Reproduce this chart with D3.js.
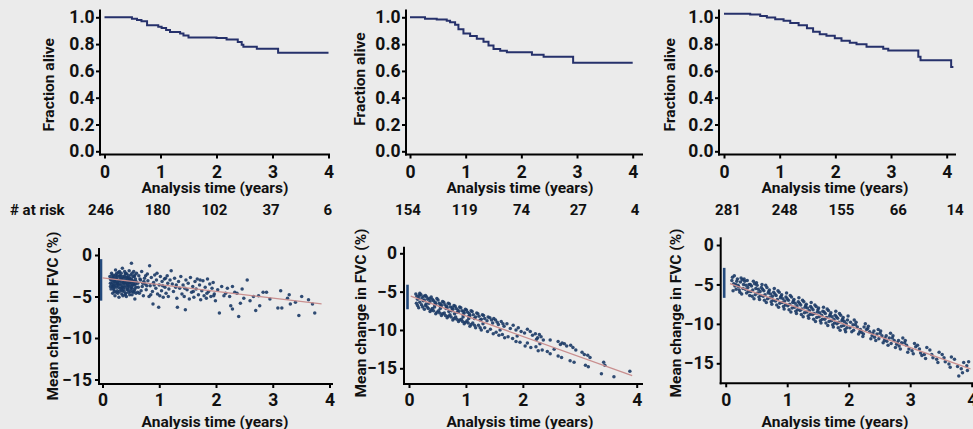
<!DOCTYPE html>
<html><head><meta charset="utf-8">
<script src="https://cdn.jsdelivr.net/npm/d3@7"></script>
<style>
body{margin:0;background:#ebebeb}
svg{display:block}
text{font-family:Roboto,"Noto Sans",sans-serif;font-weight:700;fill:#111}
</style></head>
<body><svg width="973" height="429"></svg>
<script>
// ---------------- DATA ----------------
const yearTicks = [0,1,2,3,4];
const survTicks = [0,0.2,0.4,0.6,0.8,1.0];
const fvcTicks = [0,-5,-10,-15];
const xTitle = "Analysis time (years)";
const survTitle = "Fraction alive";
const fvcTitle = "Mean change in FVC (%)";
const atRiskLabel = "# at risk";
const atRisk1 = [246,180,102,37,6];
const atRisk2 = [154,119,74,27,4];
const atRisk3 = [281,248,155,66,14];

// Kaplan-Meier steps [time, fraction alive]
const km1 = [[0,1],[0.49,0.99],[0.58,0.98],[0.66,0.97],[0.76,0.94],[0.96,0.93],[1.02,0.92],[1.1,0.905],[1.17,0.89],[1.35,0.88],[1.41,0.865],[1.5,0.85],[2.0,0.845],[2.18,0.835],[2.38,0.815],[2.45,0.795],[2.48,0.78],[2.72,0.765],[3.1,0.735],[4.0,0.735]];
const km2 = [[0,1],[0.27,0.99],[0.48,0.983],[0.66,0.975],[0.72,0.963],[0.81,0.945],[0.87,0.91],[0.96,0.88],[1.08,0.86],[1.2,0.84],[1.32,0.818],[1.41,0.79],[1.5,0.763],[1.62,0.75],[1.74,0.74],[2.19,0.72],[2.4,0.705],[2.93,0.66],[4.0,0.66]];
const km3 = [[0,1.027],[0.47,1.02],[0.65,1.01],[0.77,0.998],[0.92,0.985],[1.07,0.975],[1.19,0.957],[1.34,0.94],[1.49,0.918],[1.6,0.893],[1.72,0.873],[1.84,0.863],[1.99,0.843],[2.11,0.825],[2.26,0.81],[2.38,0.798],[2.56,0.78],[2.86,0.765],[2.95,0.752],[3.49,0.706],[3.53,0.68],[4.08,0.63],[4.12,0.63]];

// baseline spread at time 0 [top, bottom] (%)
const base1 = [-0.5,-5.5];
const base2 = [-4.1,-7.3];
const base3 = [-2.9,-6.7];

// fitted trend [[t0,v0],[t1,v1]]
const fit1 = [[0,-2.75],[3.86,-5.9]];
const fit2 = [[0.03,-5.6],[3.92,-15.95]];
const fit3 = [[0.07,-4.9],[3.98,-15.7]];

// individual observations [time, change %]
const fvcPts1 = [
[0.13,-2.6],[0.14,-3.4],[0.15,-4.1],[0.16,-2.2],[0.17,-3.0],[0.18,-4.6],[0.19,-3.7],[0.2,-2.5],[0.21,-3.2],[0.22,-4.9],[0.23,-1.8],[0.24,-3.9],[0.25,-2.9],[0.26,-4.3],[0.27,-3.5],[0.28,-2.1],[0.29,-5.1],[0.3,-3.1],[0.31,-4.0],[0.32,-2.6],[0.33,-3.6],[0.34,-4.7],[0.35,-1.6],[0.36,-3.3],[0.37,-2.8],[0.38,-4.4],[0.39,-3.9],[0.4,-2.3],[0.41,-3.0],[0.42,-5.0],[0.43,-3.7],[0.44,-2.7],[0.45,-4.2],[0.46,-3.3],[0.47,-1.9],[0.48,-4.8],[0.49,-3.5],[0.5,-2.4],[0.51,-1.0],[0.52,-4.0],[0.53,-3.1],[0.54,-2.6],[0.55,-4.5],[0.56,-3.6],[0.57,-5.3],[0.58,-2.9],[0.59,-3.9],[0.6,-2.2],
[0.15,-3.0],[0.17,-3.8],[0.19,-2.8],[0.21,-4.4],[0.23,-3.4],[0.25,-2.2],[0.27,-4.6],[0.29,-3.0],[0.31,-2.4],[0.33,-4.2],[0.35,-3.9],[0.37,-3.4],[0.39,-2.0],[0.41,-4.6],[0.43,-2.3],[0.45,-3.0],[0.47,-3.8],[0.49,-4.4],[0.51,-2.9],[0.53,-3.6],[0.55,-2.0],[0.57,-4.1],[0.59,-3.2],[0.2,-3.6],[0.24,-2.7],[0.28,-3.9],[0.32,-3.2],[0.36,-4.9],[0.4,-3.4],[0.44,-4.0],[0.48,-2.8],[0.52,-4.8],[0.56,-2.6],[0.3,-2.0],[0.34,-2.9],[0.38,-3.2],[0.42,-2.7],[0.46,-4.5],[0.5,-3.2],[0.26,-3.3],[0.22,-2.9],[0.18,-3.3],
[0.16,-3.5],[0.18,-2.7],[0.2,-4.2],[0.22,-3.1],[0.24,-4.5],[0.26,-2.5],[0.28,-3.6],[0.3,-4.4],[0.32,-2.9],[0.34,-3.9],[0.36,-2.6],[0.38,-3.7],[0.4,-4.8],[0.42,-3.3],[0.44,-3.5],[0.46,-2.5],[0.48,-3.3],[0.5,-4.1],[0.52,-2.2],[0.54,-3.4],[0.56,-4.3],[0.58,-3.5],[0.19,-4.0],[0.23,-2.4],[0.27,-3.2],[0.31,-3.5],[0.35,-4.3],[0.39,-2.6],[0.43,-4.2],[0.47,-2.9],[0.51,-3.8],[0.55,-3.2],[0.59,-4.6],[0.17,-2.4],[0.21,-3.8],[0.25,-3.6],[0.29,-2.6],[0.33,-2.2],[0.37,-4.1],[0.41,-2.2],[0.45,-3.7],[0.49,-3.0],[0.53,-4.4],[0.57,-2.4],[0.14,-3.8],[0.14,-2.9],[0.62,-4.5],[0.66,-2.9],[0.71,-3.4],[0.76,-2.5],
[0.62,-3.4],[0.64,-2.5],[0.65,-4.6],[0.67,-3.0],[0.69,-2.0],[0.7,-3.8],[0.72,-4.9],[0.74,-2.8],[0.75,-3.5],[0.77,-4.2],[0.79,-2.3],[0.8,-3.1],[0.82,-5.0],[0.83,-1.3],[0.84,-3.7],[0.86,-2.7],[0.88,-4.4],[0.89,-5.9],[0.9,-3.3],[0.92,-2.4],[0.94,-4.0],[0.95,-3.0],[0.97,-4.7],[0.99,-6.3],[1.0,-3.6],[1.02,-2.6],[1.04,-4.3],[1.05,-3.2],[1.07,-5.1],[1.09,-2.9],[1.1,-3.9],[1.12,-4.6],[1.14,-2.5],[1.15,-3.4],[1.17,-4.1],[1.19,-3.0],[1.21,-1.9],[0.63,-3.9],[0.68,-4.3],[0.73,-3.2],[0.78,-3.7],[0.85,-4.8],[0.91,-3.6],[0.96,-2.2],[1.01,-4.9],[1.06,-3.7],[1.11,-2.8],[1.16,-5.0],
[1.23,-3.5],[1.25,-4.4],[1.27,-2.8],[1.29,-3.9],[1.31,-5.2],[1.32,-6.3],[1.34,-3.2],[1.36,-4.0],[1.38,-2.6],[1.4,-4.7],[1.42,-3.6],[1.44,-5.0],[1.46,-6.6],[1.47,-3.0],[1.49,-4.2],[1.51,-3.4],[1.53,-5.3],[1.55,-2.7],[1.57,-4.5],[1.59,-3.8],[1.61,-5.1],[1.63,-3.2],[1.65,-4.1],[1.67,-2.9],[1.69,-4.8],[1.71,-3.6],[1.73,-5.4],[1.75,-4.3],[1.77,-3.1],[1.79,-4.9],[1.81,-3.9],[1.83,-5.2],[1.85,-2.9],[1.87,-4.4],[1.89,-3.5],[1.91,-5.0],[1.93,-4.0],[1.95,-3.3],[1.97,-4.7],[1.99,-5.5],[1.3,-3.6],[1.45,-4.0],[1.6,-4.4],[1.72,-3.0],[1.84,-4.6],[1.96,-4.9],
[2.03,-4.2],[2.06,-7.0],[2.1,-3.8],[2.14,-4.9],[2.2,-4.0],[2.24,-5.0],[2.26,-6.1],[2.29,-3.8],[2.29,-6.5],[2.33,-4.5],[2.37,-4.6],[2.4,-7.4],[2.43,-5.8],[2.49,-5.2],[2.55,-3.0],[2.6,-5.5],[2.66,-5.0],[2.7,-6.7],[2.77,-6.1],[2.83,-4.5],[2.89,-4.5],[2.95,-5.3],[3.09,-6.4],[3.14,-4.3],[3.16,-6.4],[3.26,-5.2],[3.29,-4.8],[3.31,-5.9],[3.4,-5.7],[3.46,-7.3],[3.51,-5.0],[3.63,-5.4],[3.7,-5.9],[3.74,-7.0],[2.17,-4.6],[2.46,-4.1],[2.75,-4.9]
];
const fvcPts2 = [
[0.12,-5.3],[0.17,-5.9],[0.14,-5.6],[0.19,-5.2],[0.15,-6.0],[0.18,-5.5],
[0.21,-5.4],[0.27,-6.1],[0.23,-5.8],[0.29,-5.5],[0.25,-6.2],[0.26,-5.6],
[0.31,-5.7],[0.37,-6.3],[0.33,-6.0],[0.39,-5.7],[0.35,-6.5],[0.36,-5.9],
[0.41,-6.0],[0.47,-6.6],[0.43,-6.2],[0.49,-5.9],[0.45,-6.7],[0.46,-6.4],
[0.51,-6.1],[0.57,-6.8],[0.53,-6.5],[0.59,-6.3],[0.55,-6.9],[0.56,-6.6],
[0.61,-6.4],[0.67,-7.1],[0.63,-6.7],[0.69,-6.5],[0.65,-7.2],[0.66,-6.9],
[0.71,-6.6],[0.77,-7.3],[0.73,-7.0],[0.79,-6.8],[0.75,-7.5],[0.76,-7.1],
[0.81,-6.9],[0.87,-7.6],[0.83,-7.2],[0.89,-7.0],[0.85,-7.7],[0.86,-7.4],
[0.91,-7.1],[0.97,-7.8],[0.93,-7.5],[0.99,-7.3],[0.95,-8.0],[0.96,-7.6],
[1.01,-7.4],[1.07,-8.1],[1.03,-7.7],[1.09,-7.5],[1.05,-8.2],[1.06,-7.9],
[1.11,-7.6],[1.17,-8.3],[1.13,-8.0],[1.19,-7.8],[1.15,-8.5],
[1.21,-7.9],[1.27,-8.6],[1.23,-8.2],[1.29,-8.0],[1.25,-8.7],
[1.31,-8.1],[1.37,-8.8],[1.33,-8.5],[1.39,-8.3],[1.42,-8.4],[1.47,-9.1],[1.45,-8.7],[1.49,-8.5],
[1.52,-8.7],[1.57,-9.3],[1.55,-9.0],[1.62,-8.9],[1.67,-9.5],[1.65,-9.2],[1.72,-9.2],[1.78,-9.8],[1.83,-9.4],[1.88,-10.0],[1.92,-9.7],[1.97,-10.2],
[2.03,-10.4],[2.08,-9.9],[2.13,-10.2],[2.17,-10.7],[2.22,-10.5],[2.26,-11.0],[2.29,-10.6],[2.24,-11.2],[2.32,-10.9],[2.36,-11.3],[2.48,-11.3],
[2.62,-11.5],[2.66,-11.9],[2.69,-11.7],[2.73,-11.8],[2.77,-12.1],[2.84,-12.0],[2.88,-12.3],[2.93,-12.6],[3.04,-12.9],[3.08,-13.2],[3.14,-13.3],[3.18,-13.6],[3.42,-14.2],[3.44,-14.6],[3.88,-15.4],
[0.13,-6.5],[0.17,-7.1],[0.15,-6.8],[0.19,-6.4],[0.22,-6.7],[0.27,-7.3],[0.24,-7.0],[0.29,-6.8],
[0.32,-7.0],[0.37,-7.6],[0.34,-7.2],[0.39,-7.4],[0.41,-7.2],[0.47,-7.9],[0.43,-7.5],[0.49,-7.7],
[0.52,-7.5],[0.57,-8.1],[0.54,-7.8],[0.59,-7.9],[0.62,-7.8],[0.67,-8.4],[0.64,-8.1],[0.69,-8.2],
[0.72,-8.0],[0.77,-8.7],[0.74,-8.3],[0.79,-8.5],[0.82,-8.3],[0.87,-8.9],[0.84,-8.6],[0.89,-8.7],
[0.92,-8.6],[0.97,-9.2],[0.94,-8.9],[0.99,-9.0],[1.02,-8.8],[1.07,-9.5],[1.04,-9.1],[1.09,-9.3],
[1.12,-9.1],[1.17,-9.7],[1.15,-9.4],[1.22,-9.4],[1.27,-10.0],[1.25,-9.7],[1.33,-9.7],[1.38,-10.2],
[1.43,-9.9],[1.48,-10.5],[1.53,-10.3],[1.58,-10.7],[1.64,-10.6],[1.68,-11.0],[1.74,-10.9],[1.82,-11.1],[1.88,-11.5],[1.95,-11.6],
[2.04,-12.1],[2.08,-11.7],[2.14,-12.3],[2.23,-12.2],[2.27,-12.7],[2.34,-12.6],[2.43,-12.8],[2.48,-13.1],[2.62,-13.4],[2.68,-13.6],[2.83,-14.0],[2.9,-14.2],[3.1,-14.6],[3.15,-14.8],[3.38,-15.7],[3.6,-16.1],
[0.3,-6.6],[0.55,-7.2],[0.8,-7.9],[1.05,-8.5],[1.3,-9.2],[1.6,-10.0],[1.9,-10.8],[2.3,-11.8],[2.55,-12.5],[0.45,-7.0],[0.7,-7.6],[0.95,-8.3]
];
const fvcPts3 = [
[0.11,-4.1],[0.17,-5.6],[0.13,-4.9],[0.19,-4.3],[0.15,-5.2],[0.12,-5.8],[0.18,-4.6],[0.14,-3.9],[0.16,-5.0],[0.1,-4.5],
[0.21,-5.3],[0.27,-4.4],[0.23,-6.0],[0.29,-5.0],[0.25,-4.2],[0.22,-5.7],[0.28,-5.5],[0.24,-4.7],[0.26,-6.2],[0.2,-5.1],
[0.31,-4.6],[0.37,-5.9],[0.33,-5.1],[0.39,-6.4],[0.35,-4.5],[0.32,-5.6],[0.38,-5.0],[0.34,-6.1],[0.36,-5.4],[0.3,-4.3],
[0.41,-5.9],[0.47,-4.9],[0.43,-6.5],[0.49,-5.5],[0.45,-4.6],[0.42,-5.2],[0.48,-6.3],[0.44,-5.7],[0.46,-6.8],[0.4,-5.0],
[0.51,-5.1],[0.57,-6.4],[0.53,-5.6],[0.59,-5.0],[0.55,-6.9],[0.52,-6.1],[0.58,-5.4],[0.54,-6.6],[0.56,-5.9],[0.5,-4.8],
[0.61,-6.5],[0.67,-5.4],[0.63,-7.0],[0.69,-6.1],[0.65,-5.1],[0.62,-5.8],[0.68,-6.8],[0.64,-6.3],[0.66,-7.3],[0.6,-5.6],
[0.71,-5.7],[0.77,-7.0],[0.73,-6.2],[0.79,-5.5],[0.75,-7.5],[0.72,-6.7],[0.78,-6.0],[0.74,-7.2],[0.76,-6.5],[0.7,-5.9],
[0.81,-7.1],[0.87,-6.0],[0.83,-7.6],[0.89,-6.7],[0.85,-5.8],[0.82,-6.4],[0.88,-7.4],[0.84,-6.9],[0.86,-7.9],[0.8,-6.2],
[0.91,-6.3],[0.97,-7.6],[0.93,-6.8],[0.99,-6.1],[0.95,-8.1],[0.92,-7.3],[0.98,-6.6],[0.94,-7.8],[0.96,-7.1],[0.9,-6.5],
[1.01,-7.7],[1.07,-6.6],[1.03,-8.2],[1.09,-7.3],[1.05,-6.4],[1.02,-7.0],[1.08,-8.0],[1.04,-7.5],[1.06,-8.5],[1.0,-6.8],
[1.11,-6.9],[1.17,-8.2],[1.13,-7.4],[1.19,-6.7],[1.15,-8.7],[1.12,-7.9],[1.18,-7.2],[1.14,-8.4],[1.16,-7.7],[1.1,-7.1],
[1.21,-8.3],[1.27,-7.2],[1.23,-8.8],[1.29,-7.9],[1.25,-7.0],[1.22,-7.6],[1.28,-8.6],[1.24,-8.1],[1.26,-9.1],[1.2,-7.4],
[1.31,-7.5],[1.37,-8.8],[1.33,-8.0],[1.39,-7.3],[1.35,-9.3],[1.32,-8.5],[1.38,-7.8],[1.34,-9.0],[1.36,-8.3],[1.3,-7.7],
[1.41,-8.8],[1.47,-7.8],[1.43,-9.4],[1.49,-8.5],[1.45,-7.6],[1.42,-8.2],[1.48,-9.2],[1.44,-8.7],[1.46,-9.7],[1.4,-8.0],
[1.51,-8.0],[1.57,-9.4],[1.53,-8.6],[1.59,-7.9],[1.55,-9.9],[1.52,-9.1],[1.58,-8.4],[1.54,-9.6],[1.56,-8.9],[1.5,-8.2],
[1.61,-9.4],[1.67,-8.3],[1.63,-9.9],[1.69,-9.0],[1.65,-8.1],[1.62,-8.7],[1.68,-9.7],[1.64,-9.2],[1.66,-10.2],[1.6,-8.5],
[1.71,-8.6],[1.77,-9.9],[1.73,-9.1],[1.79,-8.4],[1.75,-10.4],[1.72,-9.6],[1.78,-8.9],[1.74,-10.1],[1.76,-9.4],[1.7,-8.8],
[1.81,-10.0],[1.87,-8.9],[1.83,-10.5],[1.89,-9.6],[1.85,-8.7],[1.82,-9.3],[1.88,-10.3],[1.84,-9.8],[1.86,-10.8],[1.8,-9.1],
[1.91,-9.2],[1.97,-10.5],[1.93,-9.7],[1.99,-9.0],[1.95,-11.0],[1.92,-10.2],[1.98,-9.5],[1.94,-10.7],[1.96,-10.0],[1.9,-9.4],
[2.02,-10.5],[2.09,-9.5],[2.05,-11.0],[2.07,-10.1],[2.03,-9.8],[2.08,-10.8],
[2.12,-9.8],[2.18,-11.0],[2.14,-10.4],[2.16,-11.3],[2.11,-10.1],[2.19,-10.7],
[2.21,-11.1],[2.27,-10.0],[2.23,-11.6],[2.29,-10.7],[2.25,-10.4],[2.24,-11.3],
[2.32,-10.3],[2.38,-11.5],[2.34,-11.0],[2.36,-11.9],[2.31,-10.6],[2.39,-11.2],
[2.42,-11.7],[2.48,-10.7],[2.44,-12.1],[2.46,-11.3],[2.41,-10.9],[2.49,-11.9],
[2.52,-10.9],[2.58,-12.1],[2.54,-11.5],[2.56,-12.4],[2.51,-11.2],[2.59,-11.8],
[2.62,-12.2],[2.68,-11.2],[2.64,-12.7],[2.66,-11.8],[2.61,-11.5],[2.69,-12.5],
[2.72,-11.5],[2.78,-12.6],[2.74,-12.1],[2.76,-13.0],[2.71,-11.8],[2.79,-12.4],
[2.82,-12.8],[2.88,-11.8],[2.84,-13.2],[2.86,-12.4],[2.81,-12.1],
[2.92,-12.1],[2.98,-13.2],[2.94,-12.7],[2.96,-13.6],[2.91,-12.4],
[3.03,-13.4],[3.07,-12.5],[3.05,-13.8],[3.09,-12.9],[3.12,-12.7],[3.17,-13.7],[3.15,-13.2],[3.19,-14.0],
[3.23,-13.9],[3.27,-13.0],[3.25,-14.4],[3.32,-13.3],[3.37,-14.3],[3.35,-13.9],[3.43,-14.5],[3.47,-13.6],[3.45,-14.9],
[3.52,-13.9],[3.57,-14.8],[3.55,-14.3],[3.63,-15.1],[3.67,-14.2],[3.65,-15.5],[3.72,-14.5],[3.77,-15.4],[3.79,-16.6],
[3.83,-15.7],[3.87,-14.9],[3.85,-16.2],[3.92,-15.3],[3.95,-14.8],[3.93,-15.9]
];

// ---------------- LAYOUT ----------------
const C = {line:"#26316b", dot:"#1b3a66", fit:"#c98f8f", bar:"#244a7c", axis:"#000"};
const svg = d3.select("svg");
svg.append("rect").attr("width",973).attr("height",429).attr("fill","#ebebeb");

function styleAxis(g, fs){
  g.select(".domain").remove();
  g.selectAll(".tick line").attr("stroke",C.axis).attr("stroke-width",2);
  g.selectAll(".tick text").attr("font-size",fs).attr("fill","#111")
   .attr("font-family","Roboto, sans-serif").attr("font-weight",700);
}
function vLabel(x,y,txt){
  svg.append("text").attr("transform",`translate(${x},${y}) rotate(-90)`)
    .attr("text-anchor","middle").attr("dy","0.35em").attr("font-size",15.5).text(txt);
}

const topPanels = [
  {km:km1, risk:atRisk1, xr:[104.5,328.5], rr:[101,327.7], yAxisX:100, xEnd:330, lx:48.5, ly:84.7, tx:215},
  {km:km2, risk:atRisk2, xr:[410,632.7], rr:[408,635], yAxisX:406, xEnd:643, lx:360, ly:79, tx:520},
  {km:km3, risk:atRisk3, xr:[724,946.7], rr:[728,955], yAxisX:719, xEnd:956, lx:670, ly:84.7, tx:835}
];
const yS = d3.scaleLinear().domain([0,1]).range([151.3,17.3]);
const topXAxisY = 154.5, topYTop = 9.5;

topPanels.forEach(p=>{
  const x = d3.scaleLinear().domain([0,4]).range(p.xr);
  const g = svg.append("g");
  g.append("path").datum(p.km)
    .attr("d", d3.line().x(d=>x(d[0])).y(d=>yS(d[1])).curve(d3.curveStepAfter))
    .attr("fill","none").attr("stroke",C.line).attr("stroke-width",2);
  const ya = g.append("g").attr("transform",`translate(${p.yAxisX},0)`)
    .call(d3.axisLeft(yS).tickValues(survTicks).tickFormat(d3.format(".1f")).tickSize(4).tickPadding(1.5));
  styleAxis(ya,17.5);
  const xa = g.append("g").attr("transform",`translate(0,${topXAxisY})`)
    .call(d3.axisBottom(x).tickValues(yearTicks).tickFormat(d3.format("d")).tickSize(4).tickPadding(7));
  styleAxis(xa,17.5);
  g.append("line").attr("x1",p.yAxisX).attr("x2",p.yAxisX).attr("y1",topYTop).attr("y2",topXAxisY+1)
    .attr("stroke",C.axis).attr("stroke-width",2);
  g.append("line").attr("x1",p.yAxisX-1).attr("x2",p.xEnd).attr("y1",topXAxisY).attr("y2",topXAxisY)
    .attr("stroke",C.axis).attr("stroke-width",2);
  vLabel(p.lx,p.ly,survTitle);
  svg.append("text").attr("x",p.tx).attr("y",193).attr("text-anchor","middle").attr("font-size",15.5).text(xTitle);
  const r = d3.scaleLinear().domain([0,4]).range(p.rr);
  svg.append("g").selectAll("text").data(p.risk).join("text")
    .attr("x",(d,i)=>r(yearTicks[i])).attr("y",215).attr("text-anchor","middle")
    .attr("font-size",15).text(d=>d);
});
svg.append("text").attr("x",10).attr("y",215).attr("font-size",15).text(atRiskLabel);

const botPanels = [
  {pts:fvcPts1, fit:fit1, base:base1, xr:[102.5,329.5], yr:[255,379.5], yAxisX:99, yTop:248, xAxisY:384, xEnd:333, lx:53, ly:316, tx:215},
  {pts:fvcPts2, fit:fit2, base:base2, xr:[409,636.7], yr:[253.3,368.3], yAxisX:404, yTop:246.7, xAxisY:384, xEnd:643, lx:361, ly:313, tx:520},
  {pts:fvcPts3, fit:fit3, base:base3, xr:[725.7,971.7], yr:[245,363.3], yAxisX:720.7, yTop:237.3, xAxisY:383.3, xEnd:973, lx:676, ly:313, tx:835}
];
botPanels.forEach(p=>{
  const x = d3.scaleLinear().domain([0,4]).range(p.xr);
  const y = d3.scaleLinear().domain([0,-15]).range(p.yr);
  const g = svg.append("g");
  g.append("line").attr("x1",x(0)-1.5).attr("x2",x(0)-1.5).attr("y1",y(p.base[0])).attr("y2",y(p.base[1]))
    .attr("stroke",C.bar).attr("stroke-width",2.6);
  g.append("g").selectAll("circle").data(p.pts).join("circle")
    .attr("cx",d=>x(d[0])).attr("cy",d=>y(d[1])).attr("r",1.75)
    .attr("fill",C.dot).attr("fill-opacity",0.9);
  g.append("path").datum(p.fit).attr("d",d3.line().x(d=>x(d[0])).y(d=>y(d[1])))
    .attr("stroke",C.fit).attr("stroke-width",1.3).attr("fill","none");
  const ya = g.append("g").attr("transform",`translate(${p.yAxisX},0)`)
    .call(d3.axisLeft(y).tickValues(fvcTicks).tickSize(4).tickPadding(3));
  styleAxis(ya,17.5);
  const xa = g.append("g").attr("transform",`translate(0,${p.xAxisY})`)
    .call(d3.axisBottom(x).tickValues(yearTicks).tickFormat(d3.format("d")).tickSize(4).tickPadding(6));
  styleAxis(xa,17.5);
  g.append("line").attr("x1",p.yAxisX).attr("x2",p.yAxisX).attr("y1",p.yTop).attr("y2",p.xAxisY+1)
    .attr("stroke",C.axis).attr("stroke-width",2);
  g.append("line").attr("x1",p.yAxisX-1).attr("x2",p.xEnd).attr("y1",p.xAxisY).attr("y2",p.xAxisY)
    .attr("stroke",C.axis).attr("stroke-width",2);
  vLabel(p.lx,p.ly,fvcTitle);
  svg.append("text").attr("x",p.tx).attr("y",426.5).attr("text-anchor","middle").attr("font-size",15.5).text(xTitle);
});
</script></body></html>
